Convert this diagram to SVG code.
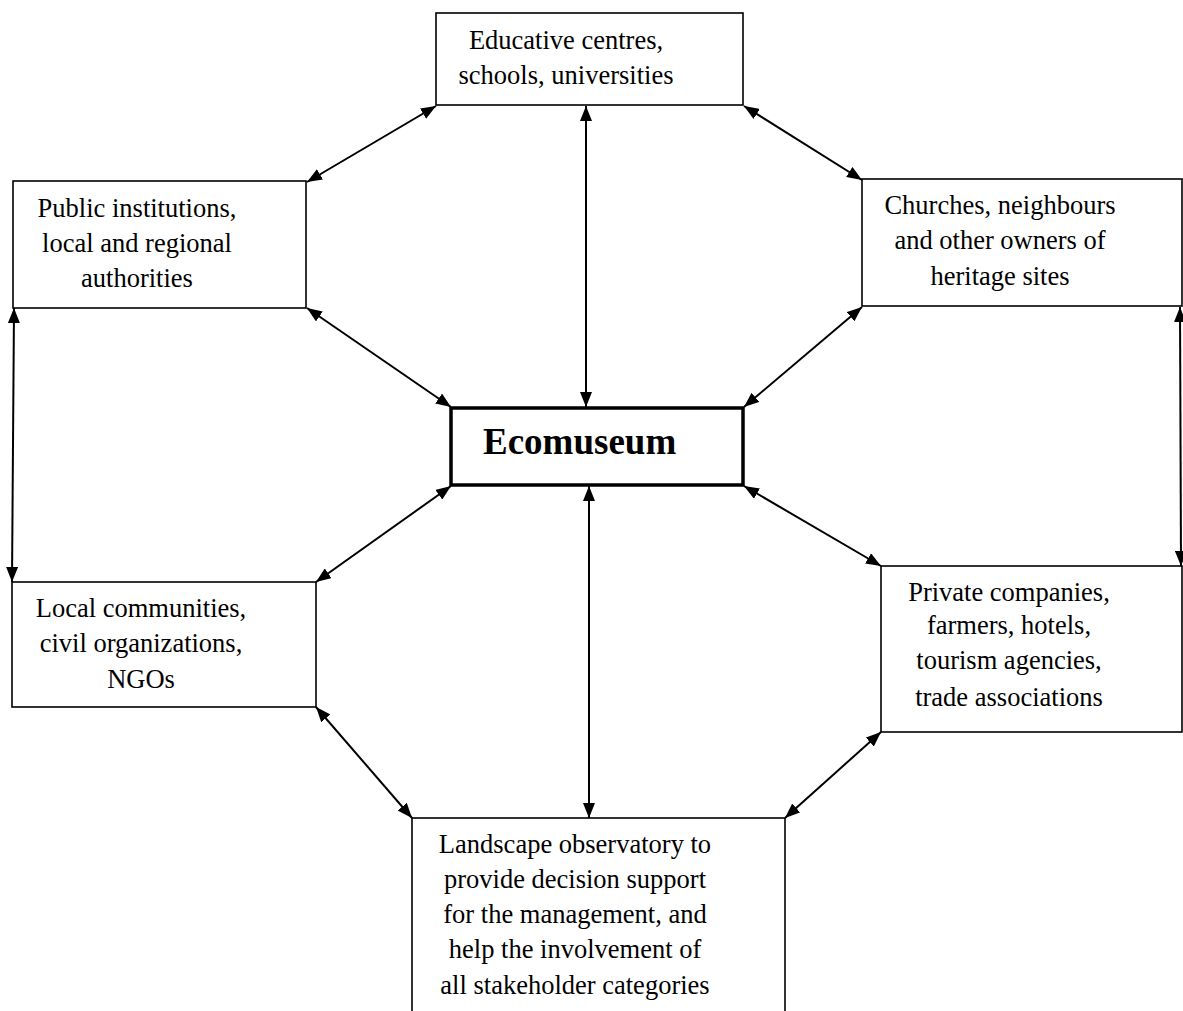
<svg xmlns="http://www.w3.org/2000/svg" width="1183" height="1011" viewBox="0 0 1183 1011">
<style>
.box{fill:#fff;stroke:#000;stroke-width:1.6}
.main{fill:#fff;stroke:#000;stroke-width:3.5}
.t{font-family:"Liberation Serif","Times New Roman",serif;font-size:26.5px;fill:#000;text-anchor:middle}
.tb{font-family:"Liberation Serif","Times New Roman",serif;font-size:37px;font-weight:bold;fill:#000}
.c{fill:none;stroke:#000;stroke-width:2;marker-start:url(#ah);marker-end:url(#ah)}
</style>
<defs>
<marker id="ah" viewBox="0 0 15 12" refX="15" refY="6" markerWidth="15" markerHeight="12" markerUnits="userSpaceOnUse" orient="auto-start-reverse">
<path d="M0,0 L15,6 L0,12 z" fill="#000"/>
</marker>
</defs>
<rect width="1183" height="1011" fill="#fff"/>
<g id="connectors">
<path class="c" d="M307,182 L436,106"/>
<path class="c" d="M586,106 L586,407"/>
<path class="c" d="M744,106 L862,180"/>
<path class="c" d="M307,308 L451,407"/>
<path class="c" d="M862,307 L744,407"/>
<path class="c" d="M14,308 L12,582"/>
<path class="c" d="M1180,307 L1181,566"/>
<path class="c" d="M451,486 L316,582"/>
<path class="c" d="M589,486 L589,818"/>
<path class="c" d="M744,486 L881,566"/>
<path class="c" d="M316,707 L412,818"/>
<path class="c" d="M881,732 L785,818"/>
</g>
<g id="educative">
<rect class="box" x="436" y="13" width="307" height="92"/>
<text class="t" x="566" y="49">Educative centres,</text>
<text class="t" x="566" y="84">schools, universities</text>
</g>
<g id="public">
<rect class="box" x="13" y="181" width="293" height="127"/>
<text class="t" x="137" y="217">Public institutions,</text>
<text class="t" x="137" y="252">local and regional</text>
<text class="t" x="137" y="287">authorities</text>
</g>
<g id="churches">
<rect class="box" x="862" y="179" width="320" height="127"/>
<text class="t" x="1000" y="214">Churches, neighbours</text>
<text class="t" x="1000" y="249">and other owners of</text>
<text class="t" x="1000" y="285">heritage sites</text>
</g>
<g id="ecomuseum">
<rect class="main" x="451" y="408" width="292" height="77"/>
<text class="tb" x="483" y="454">Ecomuseum</text>
</g>
<g id="local">
<rect class="box" x="12" y="582" width="304" height="125"/>
<text class="t" x="141" y="617">Local communities,</text>
<text class="t" x="141" y="652">civil organizations,</text>
<text class="t" x="141" y="688">NGOs</text>
</g>
<g id="private">
<rect class="box" x="881" y="566" width="301" height="166"/>
<text class="t" x="1009" y="601">Private companies,</text>
<text class="t" x="1009" y="634">farmers, hotels,</text>
<text class="t" x="1009" y="669">tourism agencies,</text>
<text class="t" x="1009" y="706">trade associations</text>
</g>
<g id="landscape">
<rect class="box" x="412" y="818" width="373" height="200"/>
<text class="t" x="575" y="853">Landscape observatory to</text>
<text class="t" x="575" y="888">provide decision support</text>
<text class="t" x="575" y="923">for the management, and</text>
<text class="t" x="575" y="958">help the involvement of</text>
<text class="t" x="575" y="994">all stakeholder categories</text>
</g>
</svg>
